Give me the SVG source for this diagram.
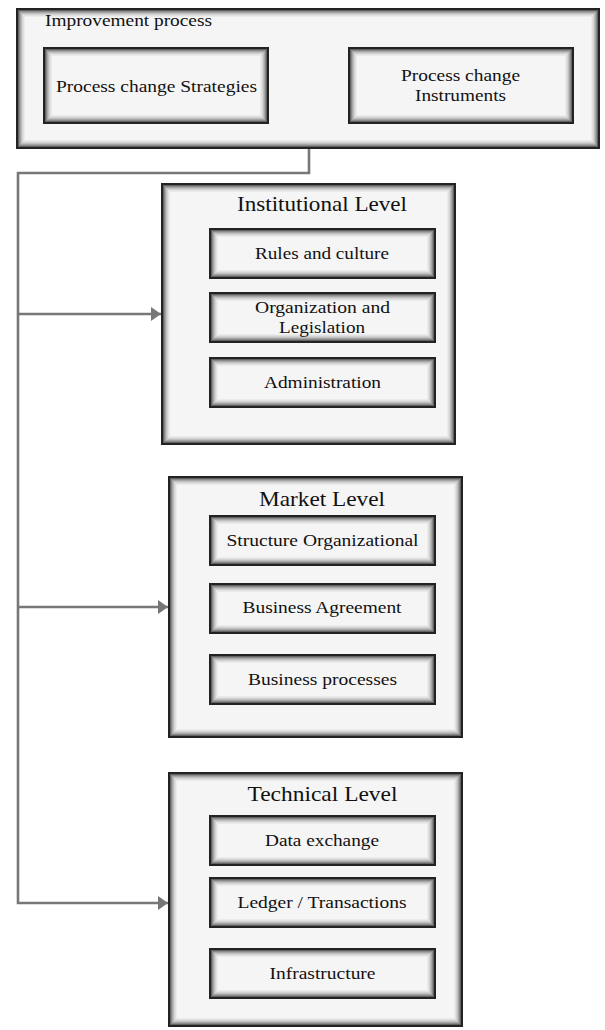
<svg xmlns="http://www.w3.org/2000/svg" width="605" height="1030" viewBox="0 0 605 1030">
  <defs>
    <style>
      .face { fill: #f5f5f5; }
      .edge { fill: none; stroke: #222; stroke-width: 2; }
      .ring { fill: none; stroke: #000; stroke-width: 1; }
      .r1 { stroke-opacity: 0.6; }
      .r2 { stroke-opacity: 0.44; }
      .r3 { stroke-opacity: 0.32; }
      .r4 { stroke-opacity: 0.22; }
      .r5 { stroke-opacity: 0.14; }
      .r6 { stroke-opacity: 0.08; }
      .r7 { stroke-opacity: 0.04; }
      .lbl { font-family: "Liberation Serif", "Times New Roman", serif; font-size: 16px; fill: #111; text-anchor: middle; }
      .head { font-family: "Liberation Serif", "Times New Roman", serif; font-size: 21px; fill: #111; text-anchor: middle; }
      .wire { fill: none; stroke: #777; stroke-width: 2.6; }
    </style>

    <!-- shaded card templates: dark rim fading inward -->
    <g id="card-row">
      <rect class="face" x="0" y="0" width="227" height="51"/>
      <rect class="ring r1" x="2.5" y="2.5" width="222" height="46"/>
      <rect class="ring r2" x="3.5" y="3.5" width="220" height="44"/>
      <rect class="ring r3" x="4.5" y="4.5" width="218" height="42"/>
      <rect class="ring r4" x="5.5" y="5.5" width="216" height="40"/>
      <rect class="ring r5" x="6.5" y="6.5" width="214" height="38"/>
      <rect class="ring r6" x="7.5" y="7.5" width="212" height="36"/>
      <rect class="ring r7" x="8.5" y="8.5" width="210" height="34"/>
      <rect class="edge" x="1" y="1" width="225" height="49"/>
    </g>
    <g id="card-wide">
      <rect class="face" x="0" y="0" width="226" height="77"/>
      <rect class="ring r1" x="2.5" y="2.5" width="221" height="72"/>
      <rect class="ring r2" x="3.5" y="3.5" width="219" height="70"/>
      <rect class="ring r3" x="4.5" y="4.5" width="217" height="68"/>
      <rect class="ring r4" x="5.5" y="5.5" width="215" height="66"/>
      <rect class="ring r5" x="6.5" y="6.5" width="213" height="64"/>
      <rect class="ring r6" x="7.5" y="7.5" width="211" height="62"/>
      <rect class="ring r7" x="8.5" y="8.5" width="209" height="60"/>
      <rect class="edge" x="1" y="1" width="224" height="75"/>
    </g>
    <g id="panel-top">
      <rect class="face" x="0" y="0" width="584" height="141"/>
      <rect class="ring r1" x="2.5" y="2.5" width="579" height="136"/>
      <rect class="ring r2" x="3.5" y="3.5" width="577" height="134"/>
      <rect class="ring r3" x="4.5" y="4.5" width="575" height="132"/>
      <rect class="ring r4" x="5.5" y="5.5" width="573" height="130"/>
      <rect class="ring r5" x="6.5" y="6.5" width="571" height="128"/>
      <rect class="ring r6" x="7.5" y="7.5" width="569" height="126"/>
      <rect class="ring r7" x="8.5" y="8.5" width="567" height="124"/>
      <rect class="edge" x="1" y="1" width="582" height="139"/>
    </g>
    <g id="panel-level">
      <rect class="face" x="0" y="0" width="295" height="262"/>
      <rect class="ring r1" x="2.5" y="2.5" width="290" height="257"/>
      <rect class="ring r2" x="3.5" y="3.5" width="288" height="255"/>
      <rect class="ring r3" x="4.5" y="4.5" width="286" height="253"/>
      <rect class="ring r4" x="5.5" y="5.5" width="284" height="251"/>
      <rect class="ring r5" x="6.5" y="6.5" width="282" height="249"/>
      <rect class="ring r6" x="7.5" y="7.5" width="280" height="247"/>
      <rect class="ring r7" x="8.5" y="8.5" width="278" height="245"/>
      <rect class="edge" x="1" y="1" width="293" height="260"/>
    </g>
    <g id="panel-level-short">
      <rect class="face" x="0" y="0" width="295" height="255"/>
      <rect class="ring r1" x="2.5" y="2.5" width="290" height="250"/>
      <rect class="ring r2" x="3.5" y="3.5" width="288" height="248"/>
      <rect class="ring r3" x="4.5" y="4.5" width="286" height="246"/>
      <rect class="ring r4" x="5.5" y="5.5" width="284" height="244"/>
      <rect class="ring r5" x="6.5" y="6.5" width="282" height="242"/>
      <rect class="ring r6" x="7.5" y="7.5" width="280" height="240"/>
      <rect class="ring r7" x="8.5" y="8.5" width="278" height="238"/>
      <rect class="edge" x="1" y="1" width="293" height="253"/>
    </g>

    <marker id="arrow" markerUnits="userSpaceOnUse" markerWidth="10" markerHeight="14" refX="10" refY="7" orient="auto">
      <path d="M0,0 L10,7 L0,14 z" fill="#777"/>
    </marker>
  </defs>

  <!-- connectors -->
  <g id="connectors">
    <path class="wire" d="M309,149 V173 H18 V903 H168" marker-end="url(#arrow)"/>
    <path class="wire" d="M18,314 H161" marker-end="url(#arrow)"/>
    <path class="wire" d="M18,607 H168" marker-end="url(#arrow)"/>
  </g>

  <!-- improvement process -->
  <g id="improvement-process">
    <use href="#panel-top" x="16" y="8"/>
    <text class="lbl" x="128.5" y="26" textLength="167" lengthAdjust="spacingAndGlyphs">Improvement process</text>
    <g id="strategies">
      <use href="#card-wide" x="43" y="47"/>
      <text class="lbl" x="156.5" y="92" textLength="201" lengthAdjust="spacingAndGlyphs">Process change Strategies</text>
    </g>
    <g id="instruments">
      <use href="#card-wide" x="348" y="47"/>
      <text class="lbl" x="460.5" y="81" textLength="119" lengthAdjust="spacingAndGlyphs">Process change</text>
      <text class="lbl" x="460.5" y="101" textLength="91" lengthAdjust="spacingAndGlyphs">Instruments</text>
    </g>
  </g>

  <!-- institutional level -->
  <g id="institutional-level">
    <use href="#panel-level" x="161" y="183"/>
    <text class="head" x="322" y="211" textLength="170" lengthAdjust="spacingAndGlyphs">Institutional Level</text>
    <g id="rules-culture">
      <use href="#card-row" x="209" y="228"/>
      <text class="lbl" x="322" y="259" textLength="134" lengthAdjust="spacingAndGlyphs">Rules and culture</text>
    </g>
    <g id="organization-legislation">
      <use href="#card-row" x="209" y="292"/>
      <text class="lbl" x="322.5" y="312.5" textLength="135" lengthAdjust="spacingAndGlyphs">Organization and</text>
      <text class="lbl" x="322" y="333" textLength="86" lengthAdjust="spacingAndGlyphs">Legislation</text>
    </g>
    <g id="administration">
      <use href="#card-row" x="209" y="357"/>
      <text class="lbl" x="322.5" y="388" textLength="117" lengthAdjust="spacingAndGlyphs">Administration</text>
    </g>
  </g>

  <!-- market level -->
  <g id="market-level">
    <use href="#panel-level" x="168" y="476"/>
    <text class="head" x="322" y="506" textLength="126" lengthAdjust="spacingAndGlyphs">Market Level</text>
    <g id="structure-organizational">
      <use href="#card-row" x="209" y="515"/>
      <text class="lbl" x="322.5" y="546" textLength="192" lengthAdjust="spacingAndGlyphs">Structure Organizational</text>
    </g>
    <g id="business-agreement">
      <use href="#card-row" x="209" y="583"/>
      <text class="lbl" x="322" y="612.5" textLength="159" lengthAdjust="spacingAndGlyphs">Business Agreement</text>
    </g>
    <g id="business-processes">
      <use href="#card-row" x="209" y="654"/>
      <text class="lbl" x="322.5" y="685" textLength="149" lengthAdjust="spacingAndGlyphs">Business processes</text>
    </g>
  </g>

  <!-- technical level -->
  <g id="technical-level">
    <use href="#panel-level-short" x="168" y="772"/>
    <text class="head" x="322.5" y="801" textLength="150" lengthAdjust="spacingAndGlyphs">Technical Level</text>
    <g id="data-exchange">
      <use href="#card-row" x="209" y="815"/>
      <text class="lbl" x="322" y="846" textLength="114" lengthAdjust="spacingAndGlyphs">Data exchange</text>
    </g>
    <g id="ledger-transactions">
      <use href="#card-row" x="209" y="877"/>
      <text class="lbl" x="322" y="908" textLength="169" lengthAdjust="spacingAndGlyphs">Ledger / Transactions</text>
    </g>
    <g id="infrastructure">
      <use href="#card-row" x="209" y="948"/>
      <text class="lbl" x="322.5" y="979" textLength="106" lengthAdjust="spacingAndGlyphs">Infrastructure</text>
    </g>
  </g>
</svg>
